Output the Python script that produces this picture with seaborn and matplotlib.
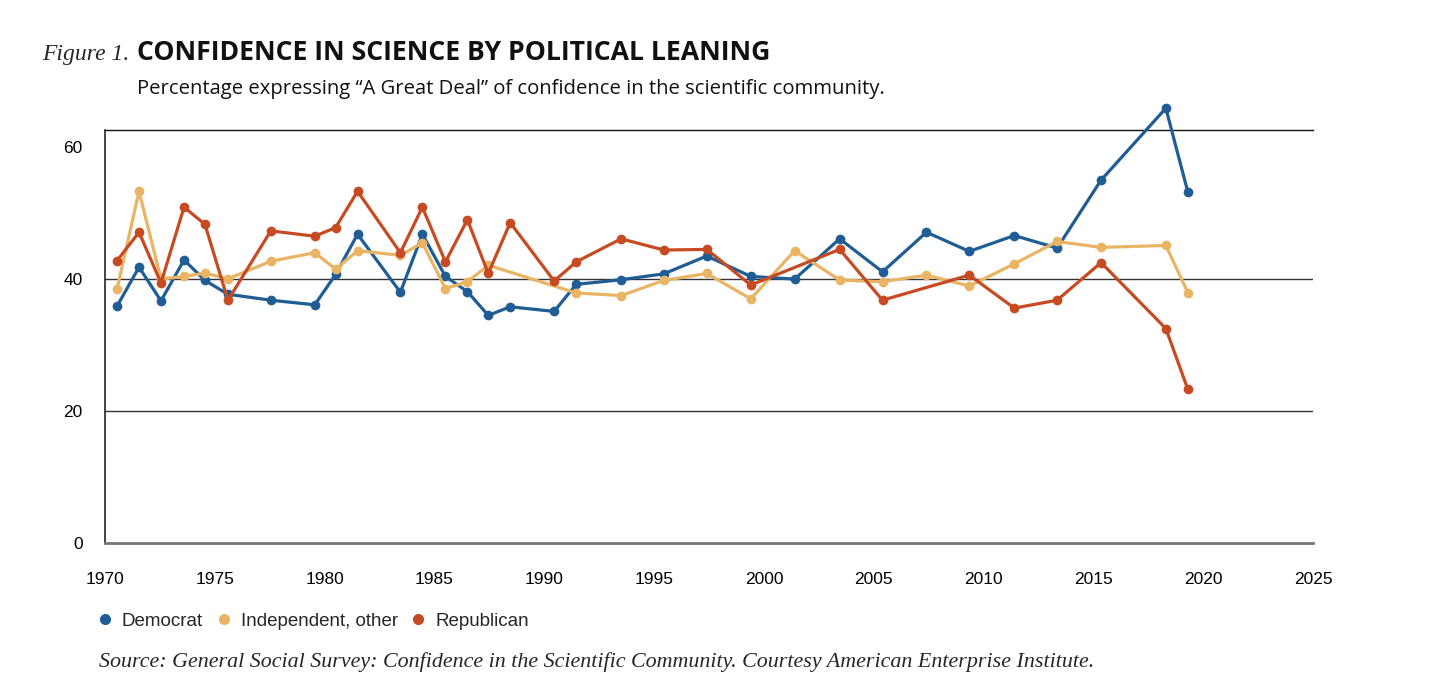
import pandas as pd
import numpy as np
import matplotlib.pyplot as plt
from matplotlib.lines import Line2D
import seaborn as sns

# === DATA ===
years = [1970.55, 1971.55, 1972.55, 1973.6, 1974.55, 1975.6, 1977.55, 1979.55,
         1980.5, 1981.5, 1983.45, 1984.45, 1985.5, 1986.5, 1987.45, 1988.45,
         1990.45, 1991.45, 1993.5, 1995.45, 1997.4, 1999.4, 2001.4, 2003.45,
         2005.4, 2007.4, 2009.35, 2011.4, 2013.35, 2015.35, 2018.3, 2019.3]

democrat = [35.9, 41.8, 36.7, 42.9, 39.8, 37.7, 36.8, 36.1, 40.7, 46.8,
            38.0, 46.8, 40.4, 38.1, 34.5, 35.8, 35.1, 39.2, 39.9, 40.8,
            43.5, 40.4, 40.0, 46.1, 41.1, 47.1, 44.2, 46.6, 44.7, 55.0,
            65.9, 53.2]

independent = [38.5, 53.3, 40.0, 40.4, 40.9, 40.05, 42.7, 44.0, 41.5, 44.3,
               43.6, 45.5, 38.55, 39.6, 42.1, np.nan, np.nan, 37.9, 37.5, 39.8,
               40.85, 37.0, 44.3, 39.85, 39.6, 40.6, 38.95, 42.3, 45.7, 44.8,
               45.1, 37.95]

republican = [42.8, 47.1, 39.4, 50.9, 48.3, 36.8, 47.3, 46.5, 47.8, 53.3,
              44.0, 50.9, 42.6, 49.0, 40.85, 48.55, 39.7, 42.6, 46.1, 44.4,
              44.5, 39.1, np.nan, 44.5, 36.8, np.nan, 40.6, 35.6, 36.8, 42.5,
              32.5, 23.3]

parties = ['Democrat', 'Independent, other', 'Republican']
colors = ['#1f5d94', '#e9b565', '#c64b22']

x_ticks = list(range(1970, 2030, 5))
y_ticks = [0, 20, 40, 60]

# === BUILD LONG TABLE ===
frames = []
for name, vals in zip(parties, [democrat, independent, republican]):
    frames.append(pd.DataFrame({'Year': years, 'Pct': vals, 'Party': name}))
df = pd.concat(frames).dropna()

# === PLOT ===
sns.set_style('white')
plt.rcParams['font.family'] = ['Liberation Sans', 'DejaVu Sans']

fig = plt.figure(figsize=(14.56, 6.95), dpi=100)
ax = fig.add_axes([0.0721, 0.2187, 0.8297, 0.5943])

for y in [20, 40]:
    ax.axhline(y, color='#333333', lw=1.0, zorder=1)

sns.lineplot(data=df, x='Year', y='Pct', hue='Party', hue_order=parties,
             palette=colors, marker='o', markersize=7, markeredgewidth=0,
             linewidth=2.3, estimator=None, sort=True, legend=False, ax=ax,
             zorder=3)
for ln in ax.lines[2:]:
    ln.set_clip_on(False)

ax.set_xlim(1970, 2025)
ax.set_ylim(0, 62.6)
ax.set_xticks(x_ticks)
ax.set_yticks(y_ticks)
ax.set_xlabel('')
ax.set_ylabel('')

ax.tick_params(axis='x', direction='out', length=10, width=1.3, color='#777777',
               labelsize=12.5, pad=11, labelcolor='black')
ax.tick_params(axis='y', length=0, labelsize=12.5, pad=16, labelcolor='black')

ax.spines['right'].set_visible(False)
ax.spines['left'].set_color('#111111')
ax.spines['left'].set_linewidth(1.1)
ax.spines['top'].set_color('#111111')
ax.spines['top'].set_linewidth(1.0)
ax.spines['bottom'].set_color('#777777')
ax.spines['bottom'].set_linewidth(2.0)

# === LEGEND ===
handles = [Line2D([], [], linestyle='none', marker='o', markersize=8,
                  markerfacecolor=c, markeredgewidth=0) for c in colors]
ax.legend(handles, parties, loc='upper left', bbox_to_anchor=(-0.0186, -0.128),
          ncol=3, frameon=False, fontsize=13.5, handletextpad=0.6,
          columnspacing=0.8, handlelength=0.6)

# === TITLES ===
fig.text(0.029, 0.914, 'Figure 1.', family='Liberation Serif', style='italic',
         fontsize=17, va='baseline')
fig.text(0.094, 0.914, 'CONFIDENCE IN SCIENCE BY POLITICAL LEANING',
         family='Open Sans', weight='bold', fontsize=19.2, va='baseline',
         color='#111111')
fig.text(0.094, 0.865,
         'Percentage expressing \u201cA Great Deal\u201d of confidence in the scientific community.',
         family='Open Sans', fontsize=14.6, va='baseline', color='#111111')
fig.text(0.068, 0.04,
         'Source: General Social Survey: Confidence in the Scientific Community. '
         'Courtesy American Enterprise Institute.',
         family='Liberation Serif', style='italic', fontsize=15.8, va='baseline')

fig.savefig('out.png', dpi=100)
